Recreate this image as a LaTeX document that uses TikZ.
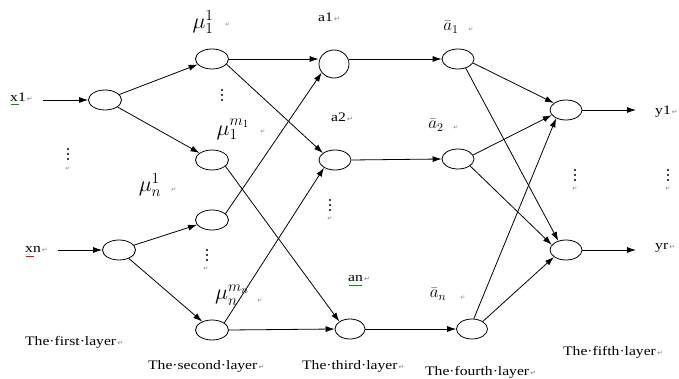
\RequirePackage{fix-cm}
\documentclass[tikz,border=0pt]{standalone}
\usepackage{fontspec}
\usetikzlibrary{shapes.geometric,arrows.meta}
\newfontfamily\labfont[FakeStretch=1.2]{Liberation Serif}
\newfontfamily\symfont{DejaVu Sans}
\newcommand\pmark{{\symfont\fontsize{7}{7}\selectfont\color{gray}\,↵}}
\begin{document}
\begin{tikzpicture}[x=1pt,y=-1pt,
  neuron/.style={draw,ellipse,line width=0.8pt,minimum width=33pt,minimum height=20pt,inner sep=0pt},
  conn/.style={line width=0.8pt,-{Latex[length=9pt,width=6pt]}},
  lab/.style={font=\labfont\fontsize{13}{14}\selectfont,inner sep=0pt,anchor=west},
  mulab/.style={font=\fontsize{22}{22}\selectfont,inner sep=0pt},
  balab/.style={font=\fontsize{17}{17}\selectfont,inner sep=0pt},
  smark/.style={font=\symfont\fontsize{6}{6}\selectfont,text=gray,inner sep=0pt},
  vdot/.pic={\fill (0,-5) circle (1.1pt) (0,0) circle (1.1pt) (0,5) circle (1.1pt);}]
\useasboundingbox[fill=white] (0,0) rectangle (679,379);

% layer 1
\node[neuron] (n1a) at (105,100) {};
\node[neuron] (n1b) at (119,250) {};
% layer 2
\node[neuron] (n2a) at (212,59) {};
\node[neuron] (n2b) at (212,160) {};
\node[neuron] (n2c) at (212,220) {};
\node[neuron] (n2d) at (212,330) {};
% layer 3
\node[neuron,minimum width=30pt,minimum height=28pt] (n3a) at (334,64) {};
\node[neuron,minimum width=32pt] (n3b) at (335,160) {};
\node[neuron,minimum width=30pt] (n3c) at (350,329) {};
% layer 4
\node[neuron,minimum width=32pt] (n4a) at (458,59) {};
\node[neuron,minimum width=32pt] (n4b) at (458,159) {};
\node[neuron,minimum width=31pt] (n4c) at (472,329) {};
% layer 5
\node[neuron,minimum width=32pt] (n5a) at (566,110) {};
\node[neuron,minimum width=32pt] (n5b) at (566,250) {};

\coordinate (in1) at (43,100);
\coordinate (in2) at (58,250);
\coordinate (out1) at (636,110);
\coordinate (out2) at (636,250);

% inputs
\draw[conn] (in1) -- (n1a.west);
\draw[conn] (in2) -- (n1b.west);
% layer 1 -> 2
\draw[conn] (n1a) -- (n2a);
\draw[conn] (n1a) -- (n2b);
\draw[conn] (n1b) -- (n2c);
\draw[conn] (n1b) -- (n2d);
% layer 2 -> 3
\draw[conn] (n2a.east) -- (n2a.east -| n3a.west);
\draw[conn] (n2a.-20) -- (n3b.150);
\draw[conn] (n2b.-25) -- (n3c.145);
\draw[conn] (n2c.25) -- (n3a.215);
\draw[conn] (n2d.30) -- (n3b.215);
\draw[conn] (n2d.east) -- (n3c.west);
% layer 3 -> 4
\draw[conn] (n4a.west -| n3a.east) -- (n4a.west);
\draw[conn] (n3b.east) -- (n4b.west);
\draw[conn] (n3c.east) -- (n4c.west);
% layer 4 -> 5
\draw[conn] (n4a.-15) -- (n5a.150);
\draw[conn] (n4a.-50) -- (n5b.130);
\draw[conn] (n4b.15) -- (n5a.200);
\draw[conn] (n4b.-30) -- (n5b.160);
\draw[conn] (n4c.80) -- (n5a.220);
\draw[conn] (n4c.35) -- (n5b.210);
% outputs
\draw[conn] (n5a.east) -- (out1);
\draw[conn] (n5b.east) -- (out2);

% input / output labels
\node[lab] (lx1) at (10,97) {x1\pmark};
\node[lab] (lxn) at (25,249) {xn\pmark};
\node[lab] (ly1) at (655,112) {y1\pmark};
\node[lab] (lyr) at (655,248) {yr\pmark};
\draw[green!60!black,line width=0.5pt] (11,104) -- (19,104);
\draw[red,line width=0.5pt] (26,256) -- (34,256);
\draw[green!60!black,line width=0.5pt] (349,285) -- (362,285);

% mu labels
\node[mulab] (m11) at (203,22) {$\mu_1^1$};
\node[smark] at (228,25) {↵};
\node[mulab] (m1m) at (233,129) {$\mu_1^{m_1}$};
\node[smark] at (263,132) {↵};
\node[mulab] (mn1) at (150,185) {$\mu_n^1$};
\node[smark] at (174,190) {↵};
\node[mulab] (mnm) at (232,295) {$\mu_n^{m_n}$};
\node[smark] at (260,301) {↵};

% a labels
\node[lab] (la1) at (318,17) {a1\pmark};
\node[lab] (la2) at (331,117) {a2\pmark};
\node[lab] (lan) at (348,278) {an\pmark};
\node[balab] (lb1) at (451,27) {$\bar{a}_1$};
\node[smark] at (471,30) {↵};
\node[balab] (lb2) at (436,125) {$\bar{a}_2$};
\node[smark] at (456,128) {↵};
\node[balab] (lbn) at (438,294) {$\bar{a}_n$};
\node[smark] at (463,298) {↵};

% vertical dots
\pic at (68,154) {vdot};
\node[smark] at (68,169) {↵};
\pic at (222,95) {vdot};
\pic at (207,255) {vdot};
\node[smark] at (206,269) {↵};
\pic at (330,205) {vdot};
\node[smark] at (330,219) {↵};
\pic at (575,175) {vdot};
\node[smark] at (575,189) {↵};
\pic at (668,175) {vdot};
\node[smark] at (668,189) {↵};

% layer labels
\node[lab] (t1) at (25,342) {The·first·layer\pmark};
\node[lab] (t2) at (148,366) {The·second·layer\pmark};
\node[lab] (t3) at (302,366) {The·third·layer\pmark};
\node[lab] (t4) at (425,372) {The·fourth·layer\pmark};
\node[lab] (t5) at (563,352) {The·fifth·layer\pmark};
\end{tikzpicture}
\end{document}
